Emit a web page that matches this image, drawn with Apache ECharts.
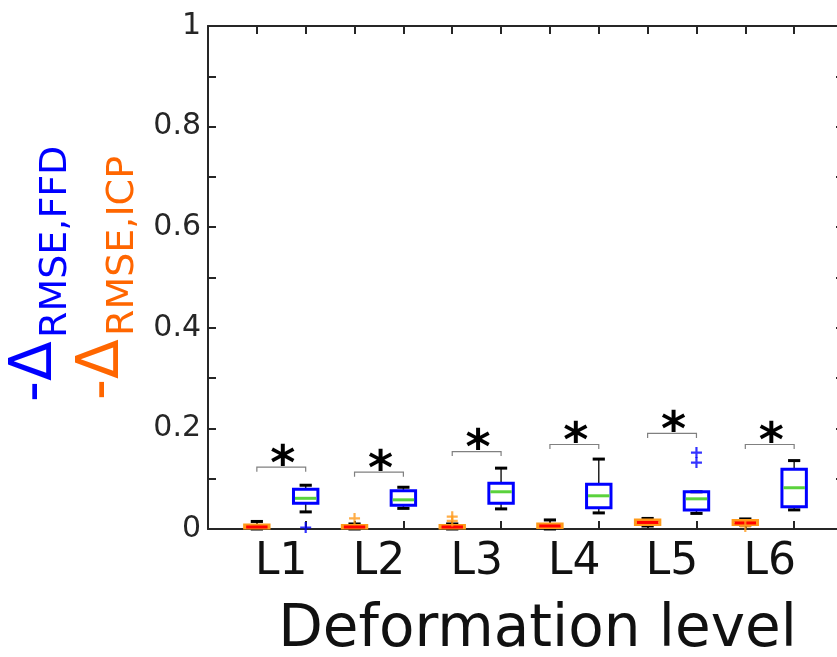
<!DOCTYPE html>
<html><head><meta charset="utf-8">
<script src="https://cdn.jsdelivr.net/npm/echarts@6/dist/echarts.min.js"></script>
<style>html,body{margin:0;padding:0;background:#fff}#c{width:837px;height:657px}</style>
</head><body><div id="c"></div>
<script>
// ---- data ----
const levels = ['L1', 'L2', 'L3', 'L4', 'L5', 'L6'];
// ICP (orange) box statistics
const icpMin = [0.000, 0.000, 0.000, 0.000, 0.006, 0.008];
const icpQ1  = [0.002, 0.002, 0.002, 0.003, 0.009, 0.009];
const icpMed = [0.004, 0.004, 0.004, 0.006, 0.013, 0.012];
const icpQ3  = [0.008, 0.007, 0.007, 0.010, 0.018, 0.017];
const icpMax = [0.015, 0.010, 0.010, 0.018, 0.021, 0.020];
const icpOutliers = [[], [0.021], [0.016, 0.0245], [], [], [0.005]];
// FFD (blue) box statistics
const ffdMin = [0.034, 0.041, 0.040, 0.032, 0.031, 0.038];
const ffdQ1  = [0.051, 0.047, 0.051, 0.042, 0.038, 0.044];
const ffdMed = [0.061, 0.058, 0.074, 0.066, 0.060, 0.082];
const ffdQ3  = [0.079, 0.076, 0.091, 0.089, 0.074, 0.119];
const ffdMax = [0.087, 0.083, 0.121, 0.139, 0.074, 0.136];
const ffdOutliers = [[0.003], [], [], [], [0.152, 0.132], []];
// significance bracket heights
const sigHeight = [0.123, 0.113, 0.154, 0.168, 0.190, 0.168];
const yTickLabels = ['0', '0.2', '0.4', '0.6', '0.8', '1'];

// ---- build ----
const FONT = 'DejaVu Sans';
const AX = '#262626';
const icpPos = i => 2 * i + 1;
const ffdPos = i => 2 * i + 2;

const icpData = levels.map((_, i) => [icpPos(i), icpMin[i], icpQ1[i], icpMed[i], icpQ3[i], icpMax[i]]);
const ffdData = levels.map((_, i) => [ffdPos(i), ffdMin[i], ffdQ1[i], ffdMed[i], ffdQ3[i], ffdMax[i]]);
const icpOut = [], ffdOut = [];
icpOutliers.forEach((arr, i) => arr.forEach(v => icpOut.push([icpPos(i), v])));
ffdOutliers.forEach((arr, i) => arr.forEach(v => ffdOut.push([ffdPos(i), v])));
const sigData = levels.map((_, i) => [icpPos(i), ffdPos(i), sigHeight[i]]);

function boxRender(edge, med) {
  return function (params, api) {
    const x = api.value(0);
    const pMin = api.coord([x, api.value(1)]);
    const pQ1 = api.coord([x, api.value(2)]);
    const pMed = api.coord([x, api.value(3)]);
    const pQ3 = api.coord([x, api.value(4)]);
    const pMax = api.coord([x, api.value(5)]);
    const bw = api.size([0.5, 0])[0];
    const cw = api.size([0.25, 0])[0];
    const cx = pMed[0];
    const wl = { stroke: '#222', lineWidth: 1.5 };
    const cap = { stroke: '#000', lineWidth: 3 };
    return {
      type: 'group',
      children: [
        { type: 'line', shape: { x1: cx, y1: pQ3[1], x2: cx, y2: pMax[1] }, style: wl },
        { type: 'line', shape: { x1: cx, y1: pQ1[1], x2: cx, y2: pMin[1] }, style: wl },
        { type: 'line', shape: { x1: cx - cw / 2, y1: pMax[1], x2: cx + cw / 2, y2: pMax[1] }, style: cap },
        { type: 'line', shape: { x1: cx - cw / 2, y1: pMin[1], x2: cx + cw / 2, y2: pMin[1] }, style: cap },
        { type: 'rect', shape: { x: cx - bw / 2, y: pQ3[1], width: bw, height: pQ1[1] - pQ3[1] },
          style: { fill: 'rgba(255,255,255,0)', stroke: edge, lineWidth: 3 } },
        { type: 'line', shape: { x1: cx - bw / 2 + 1.5, y1: pMed[1], x2: cx + bw / 2 - 1.5, y2: pMed[1] },
          style: { stroke: med, lineWidth: 3 } }
      ]
    };
  };
}

function sigRender(params, api) {
  const pL = api.coord([api.value(0), api.value(2)]);
  const pR = api.coord([api.value(1), api.value(2)]);
  return {
    type: 'group',
    children: [
      { type: 'polyline', shape: { points: [[pL[0], pL[1] + 4.5], [pL[0], pL[1]], [pR[0], pR[1]], [pR[0], pR[1] + 4.5]] },
        style: { stroke: '#808080', lineWidth: 1.2, fill: null } },
      { type: 'text', x: (pL[0] + pR[0]) / 2 + 1.5, y: pL[1] - 1,
        style: { text: '*', fontSize: 48, fontFamily: FONT, fontWeight: 'bold', fill: '#000', align: 'center', verticalAlign: 'middle' } }
    ]
  };
}

const plus = 'path://M0,4 H4 V0 H6 V4 H10 V6 H6 V10 H4 V6 H0 Z';
const grid = { left: 208, top: 26, width: 635, height: 503, outerBoundsMode: 'none', containLabel: false };

const chart = echarts.init(document.getElementById('c'), null, { renderer: 'canvas' });
chart.setOption({
  backgroundColor: '#fff',
  animation: false,
  grid: grid,
  xAxis: [
    { type: 'value', position: 'bottom', min: 0, max: 13, interval: 1,
      axisLine: { show: true, onZero: false, lineStyle: { color: AX, width: 2 } },
      axisTick: { show: true, inside: true, length: 8, lineStyle: { color: AX, width: 2 } },
      axisLabel: { show: false }, splitLine: { show: false } },
    { type: 'value', position: 'bottom', min: 0, max: 13, interval: 0.5,
      axisLine: { show: false }, axisTick: { show: false }, splitLine: { show: false },
      axisLabel: { show: true, margin: 12, fontSize: 44, fontFamily: FONT, color: '#111',
        formatter: v => { const k = (v - 1.5) / 2; const r = Math.round(k);
          return (Math.abs(k - r) < 1e-6 && r >= 0 && r < levels.length) ? levels[r] : ''; } },
      name: 'Deformation level', nameLocation: 'middle', nameGap: 73,
      nameTextStyle: { fontSize: 58, fontFamily: FONT, color: '#111', padding: [0, 0, 0, 24] } },
    { type: 'value', position: 'top', min: 0, max: 13, interval: 1,
      axisLine: { show: true, onZero: false, lineStyle: { color: AX, width: 2 } },
      axisTick: { show: true, inside: true, length: 8, lineStyle: { color: AX, width: 2 } },
      axisLabel: { show: false }, splitLine: { show: false } }
  ],
  yAxis: [
    { type: 'value', position: 'left', min: 0, max: 1, interval: 0.1,
      axisLine: { show: true, onZero: false, lineStyle: { color: AX, width: 2 } },
      axisTick: { show: true, inside: true, length: 8, lineStyle: { color: AX, width: 2 } },
      axisLabel: { show: true, margin: 7, fontSize: 30, fontFamily: FONT, color: AX,
        formatter: v => { const t = Math.round(v * 10); return t % 2 === 0 ? yTickLabels[t / 2] : ''; } },
      splitLine: { show: false } },
    { type: 'value', position: 'right', min: 0, max: 1, interval: 0.1,
      axisLine: { show: true, onZero: false, lineStyle: { color: AX, width: 2 } },
      axisTick: { show: true, inside: true, length: 7, lineStyle: { color: AX, width: 2 } },
      axisLabel: { show: false }, splitLine: { show: false } }
  ],
  graphic: [
    { type: 'text', x: 36.4, y: 402, rotation: Math.PI / 2,
      style: { text: '-Δ', fontSize: 58, fontFamily: FONT, fill: '#0000ff', align: 'left', verticalAlign: 'middle' } },
    { type: 'text', x: 55.8, y: 338, rotation: Math.PI / 2,
      style: { text: 'RMSE,FFD', fontSize: 38, fontFamily: FONT, fill: '#0000ff', align: 'left', verticalAlign: 'middle' } },
    { type: 'text', x: 103.4, y: 400, rotation: Math.PI / 2,
      style: { text: '-Δ', fontSize: 58, fontFamily: FONT, fill: '#ff6600', align: 'left', verticalAlign: 'middle' } },
    { type: 'text', x: 122.8, y: 336, rotation: Math.PI / 2,
      style: { text: 'RMSE,ICP', fontSize: 38, fontFamily: FONT, fill: '#ff6600', align: 'left', verticalAlign: 'middle' } }
  ],
  series: [
    { type: 'custom', name: 'ICP', xAxisIndex: 0, yAxisIndex: 0, clip: false,
      renderItem: boxRender('#ff9a1a', '#ff0000'), data: icpData, encode: { x: 0, y: [1, 2, 3, 4, 5] }, z: 3 },
    { type: 'custom', name: 'FFD', xAxisIndex: 0, yAxisIndex: 0, clip: false,
      renderItem: boxRender('#0000ff', '#5ad23c'), data: ffdData, encode: { x: 0, y: [1, 2, 3, 4, 5] }, z: 3 },
    { type: 'scatter', name: 'ICP outliers', xAxisIndex: 0, yAxisIndex: 0, data: icpOut,
      symbol: plus, symbolSize: 11, itemStyle: { color: '#ff9a1a' }, z: 4 },
    { type: 'scatter', name: 'FFD outliers', xAxisIndex: 0, yAxisIndex: 0, data: ffdOut,
      symbol: plus, symbolSize: 11, itemStyle: { color: '#0000ff' }, z: 4 },
    { type: 'custom', name: 'sig', xAxisIndex: 0, yAxisIndex: 0, clip: false,
      renderItem: sigRender, data: sigData, encode: { x: [0, 1], y: 2 }, z: 2 }
  ]
});
</script></body></html>
